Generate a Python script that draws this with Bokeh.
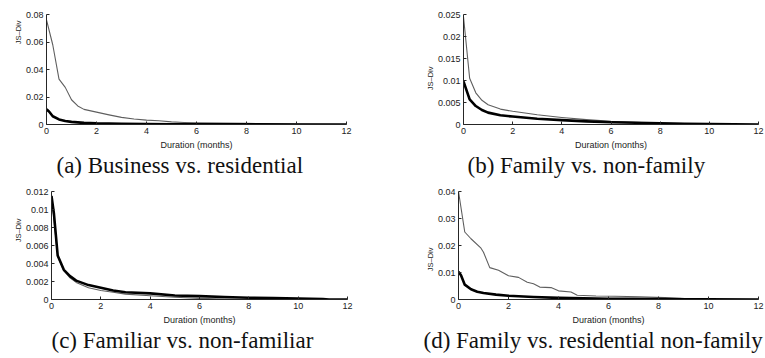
from bokeh.plotting import figure
from bokeh.layouts import column, row
from bokeh.models import FixedTicker, CustomJSTickFormatter, Range1d, Title
from bokeh.embed import file_html
from bokeh.resources import INLINE

# ---------------- data ----------------
x_ticks = [0, 2, 4, 6, 8, 10, 12]

# (a) Business vs. residential
a_thin_x = [0, 0.25, 0.5, 0.75, 1.0, 1.25, 1.5, 2.0, 2.5, 3.0, 3.5, 4.0, 4.5, 5.0, 5.5, 6.0, 7.0, 8.0, 9.0, 10.0, 11.0, 12.0]
a_thin_y = [0.076, 0.058, 0.033, 0.027, 0.018, 0.0135, 0.011, 0.009, 0.007, 0.0052, 0.004, 0.0032, 0.0027, 0.0019, 0.0015, 0.0013, 0.001, 0.0008, 0.0005, 0.0003, 0.0001, 0.0]
a_thick_x = [0, 0.1, 0.25, 0.5, 0.75, 1.0, 1.5, 2.0, 3.0, 4.0, 5.0, 6.0, 8.0, 10.0, 12.0]
a_thick_y = [0.011, 0.0095, 0.006, 0.0037, 0.0026, 0.0019, 0.0012, 0.0008, 0.0005, 0.0003, 0.0002, 0.00015, 0.0001, 0.00005, 0.0]
a_y_ticks = [0, 0.02, 0.04, 0.06, 0.08]

# (b) Family vs. non-family
b_thin_x = [0, 0.25, 0.5, 0.75, 1.0, 1.5, 2.0, 2.5, 3.0, 4.0, 5.0, 6.0, 7.0, 8.0, 9.0, 10.0, 11.0, 12.0]
b_thin_y = [0.0245, 0.0105, 0.0072, 0.0055, 0.0045, 0.0035, 0.003, 0.0026, 0.0022, 0.0016, 0.0011, 0.0007, 0.0005, 0.0003, 0.0002, 0.0001, 0.0, 0.0]
b_thick_x = [0, 0.25, 0.5, 0.75, 1.0, 1.5, 2.0, 3.0, 4.0, 5.0, 6.0, 7.0, 8.0, 9.0, 10.0, 11.0, 12.0]
b_thick_y = [0.0098, 0.0057, 0.0042, 0.0033, 0.0027, 0.0021, 0.0018, 0.0013, 0.001, 0.0007, 0.0005, 0.0004, 0.00025, 0.00015, 0.0001, 0.00005, 0.0]
b_y_ticks = [0, 0.005, 0.01, 0.015, 0.02, 0.025]

# (c) Familiar vs. non-familiar
c_thin_x = [0, 0.25, 0.5, 0.75, 1.0, 1.5, 2.0, 2.5, 3.0, 4.0, 5.0, 6.0, 7.0, 8.0, 12.0]
c_thin_y = [0.0115, 0.0048, 0.0032, 0.0024, 0.0019, 0.0013, 0.001, 0.0008, 0.0006, 0.00042, 0.00025, 0.00012, 0.00005, 0.0, 0.0]
c_thick_x = [0, 0.1, 0.25, 0.5, 0.75, 1.0, 1.5, 2.0, 2.5, 3.0, 4.0, 5.0, 6.0, 7.0, 8.0, 9.0, 10.0, 11.0, 11.25, 12.0]
c_thick_y = [0.0115, 0.0095, 0.0049, 0.0033, 0.0026, 0.0021, 0.0016, 0.0013, 0.001, 0.0008, 0.00068, 0.00045, 0.00037, 0.00027, 0.00019, 0.00015, 0.0001, 0.00005, 0.0, 0.0]
c_y_ticks = [0, 0.002, 0.004, 0.006, 0.008, 0.01, 0.012]

# (d) Family vs. residential non-family
d_thin_x = [0, 0.25, 0.5, 0.9, 1.0, 1.25, 1.6, 2.0, 2.4, 2.75, 3.0, 3.25, 3.7, 4.0, 4.5, 4.75, 5.5, 6.25, 7.25, 8.25, 8.9, 9.5, 10.0, 12.0]
d_thin_y = [0.040, 0.025, 0.0225, 0.019, 0.0175, 0.0118, 0.0108, 0.0088, 0.0082, 0.0064, 0.0058, 0.0046, 0.0044, 0.0032, 0.0028, 0.0016, 0.0013, 0.0012, 0.001, 0.0007, 0.0004, 0.0001, 0.0, 0.0]
d_thick_x = [0, 0.1, 0.25, 0.5, 0.75, 1.0, 1.5, 2.0, 3.0, 4.0, 5.0, 6.0, 7.0, 8.0, 9.0, 10.0, 12.0]
d_thick_y = [0.0103, 0.009, 0.0055, 0.0038, 0.0029, 0.0024, 0.0018, 0.0014, 0.0009, 0.0006, 0.0004, 0.0003, 0.00025, 0.0002, 0.0001, 0.00003, 0.0]
d_y_ticks = [0, 0.01, 0.02, 0.03, 0.04]

captions = [
    "(a) Business vs. residential",
    "(b) Family vs. non-family",
    "(c) Familiar vs. non-familiar",
    "(d) Family vs. residential non-family",
]
x_label = "Duration (months)"
y_label = "JS\u2013Div"

# ---------------- styling ----------------
THIN_COLOR = "#5f5f5f"
THICK_COLOR = "#000000"
AX_COLOR = "#262626"
SANS = "Liberation Sans"
SERIF = "Liberation Serif"

fmt = CustomJSTickFormatter(code="""
    if (Math.abs(tick) < 1e-12) { return "0"; }
    return String(parseFloat(tick.toFixed(4)));
""")


def panel(width, height, bl, br, bt, bb, y_ticks, thin_x, thin_y, thick_x, thick_y,
          caption, cap_offset, ylab_offset):
    p = figure(width=width, height=height, output_backend="svg", toolbar_location=None,
               x_range=Range1d(0, 12), y_range=Range1d(y_ticks[0], y_ticks[-1]),
               min_border_left=bl, min_border_right=br, min_border_top=bt,
               min_border_bottom=bb, background_fill_color="white",
               border_fill_color="white")
    p.outline_line_color = None
    p.grid.visible = False
    p.xaxis.ticker = FixedTicker(ticks=x_ticks)
    p.yaxis.ticker = FixedTicker(ticks=y_ticks)
    p.yaxis.formatter = fmt
    p.xaxis.axis_label = x_label
    for ax in (p.xaxis[0], p.yaxis[0]):
        ax.axis_line_color = AX_COLOR
        ax.axis_line_width = 1
        ax.major_tick_line_color = AX_COLOR
        ax.major_tick_in = 3
        ax.major_tick_out = 0
        ax.minor_tick_line_color = None
        ax.major_label_text_font = SANS
        ax.major_label_text_font_size = "9px"
        ax.major_label_text_color = "#222222"
        ax.major_label_standoff = 3
        ax.axis_label_text_font = SANS
        ax.axis_label_text_font_size = "9px"
        ax.axis_label_text_font_style = "normal"
        ax.axis_label_text_color = "#222222"
        ax.axis_label_standoff = 3
    p.line(thin_x, thin_y, line_color=THIN_COLOR, line_width=1.1, line_join="round")
    p.line(thick_x, thick_y, line_color=THICK_COLOR, line_width=2.6, line_join="round")
    # y-axis label, placed along the axis like the original (not centred)
    yl = Title(text=y_label, align="right", offset=ylab_offset, text_font=SANS,
               text_font_size="7.5px", text_font_style="normal", text_color="#222222",
               standoff=0, vertical_align="bottom")
    p.add_layout(yl, "left")
    t = Title(text=caption, align="left", offset=cap_offset, text_font=SERIF,
              text_font_size="23px", text_font_style="normal", text_color="#111111",
              standoff=0, vertical_align="top")
    p.add_layout(t, "below")
    return p


pa = panel(380, 179, 46, 34, 14, 55, a_y_ticks, a_thin_x, a_thin_y, a_thick_x, a_thick_y,
           captions[0], 10, 6)
pb = panel(385, 179, 83, 7, 14, 55, b_y_ticks, b_thin_x, b_thin_y, b_thick_x, b_thick_y,
           captions[1], 4, 52)
pc = panel(380, 179, 51, 33, 12, 58, c_y_ticks, c_thin_x, c_thin_y, c_thick_x, c_thick_y,
           captions[2], 0, 27)
pd = panel(385, 179, 78, 7, 10, 59, d_y_ticks, d_thin_x, d_thin_y, d_thick_x, d_thick_y,
           captions[3], -35, 56)

layout = column(row(pa, pb, spacing=0), row(pc, pd, spacing=0), spacing=0)

open("out.html", "w").write(file_html(layout, INLINE))
